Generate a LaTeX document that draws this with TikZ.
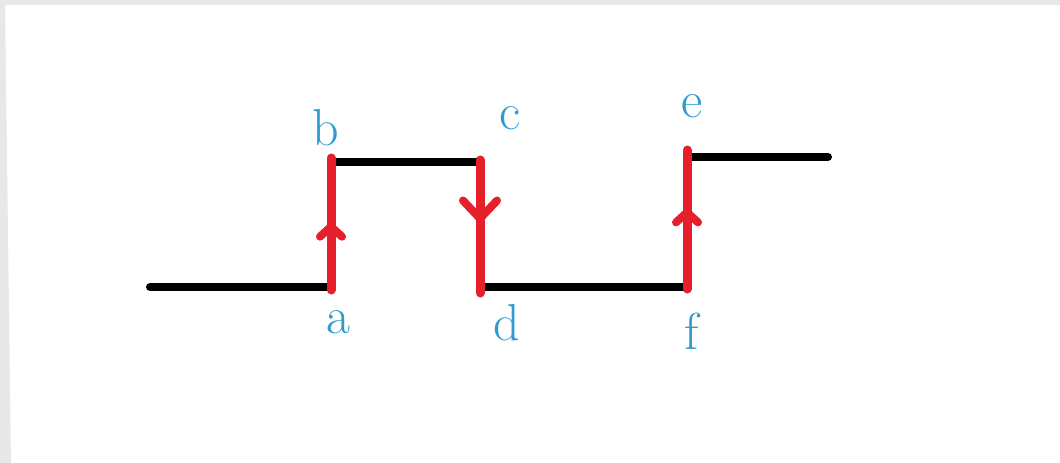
\documentclass[tikz,border=0pt]{standalone}
\usetikzlibrary{arrows.meta,decorations.markings}
\definecolor{framegray}{RGB}{230,232,233}
\definecolor{stepred}{RGB}{230,32,42}
\definecolor{labelblue}{RGB}{46,154,208}

\tikzset{
  level/.style={line width=8pt, line cap=round, black},
  jump/.style={line width=9pt, line cap=round, stepred},
  jumpmark/.style n args={3}{postaction={decorate, decoration={markings,
      mark=at position #1 with {\arrow[stepred, line width=8pt]{Straight Barb[length=#2pt, width=#3pt, line cap=round, line join=round]}}}}},
  lbl/.style={text=labelblue, font=\fontsize{52}{52}\selectfont, inner sep=0pt}
}

\begin{document}
\begin{tikzpicture}[x=1pt, y=-1pt]
			\useasboundingbox (0,0) rectangle (1060,463);
			\fill [white] (0,0) rectangle (1060,463);
			\fill [framegray] (0,0) -- (1060,0) -- (1060,5) -- (5,5) -- (11,463) -- (0,463) -- cycle;
			\coordinate (start) at (150,287);
			\coordinate (a) at (331,290);
			\coordinate (b) at (331,158);
			\coordinate (c) at (480,160);
			\coordinate (d) at (480,293);
			\coordinate (f) at (687,289);
			\coordinate (e) at (687,150);
			\coordinate (stop) at (828,157);
			\draw [level] (start) -- (331,287);
			\draw [level] (331,162) -- (480,162);
			\draw [level] (480,287) -- (687,287);
			\draw [level] (687,157) -- (stop);
			\draw [jump, jumpmark={0.51}{10}{22}] (a) -- (b);
			\draw [jump, jumpmark={0.47}{18}{34}] (c) -- (d);
			\draw [jump, jumpmark={0.58}{10}{22}] (f) -- (e);
			\node [lbl] (la) at (338,322) {a};
			\node [lbl] (lb) at (326,128) {b};
			\node [lbl] (lc) at (510,118) {c};
			\node [lbl] (ld) at (507,323) {d};
			\node [lbl] (le) at (692,106) {e};
			\node [lbl] (lf) at (692,331) {f};
		\end{tikzpicture}
\end{document}
